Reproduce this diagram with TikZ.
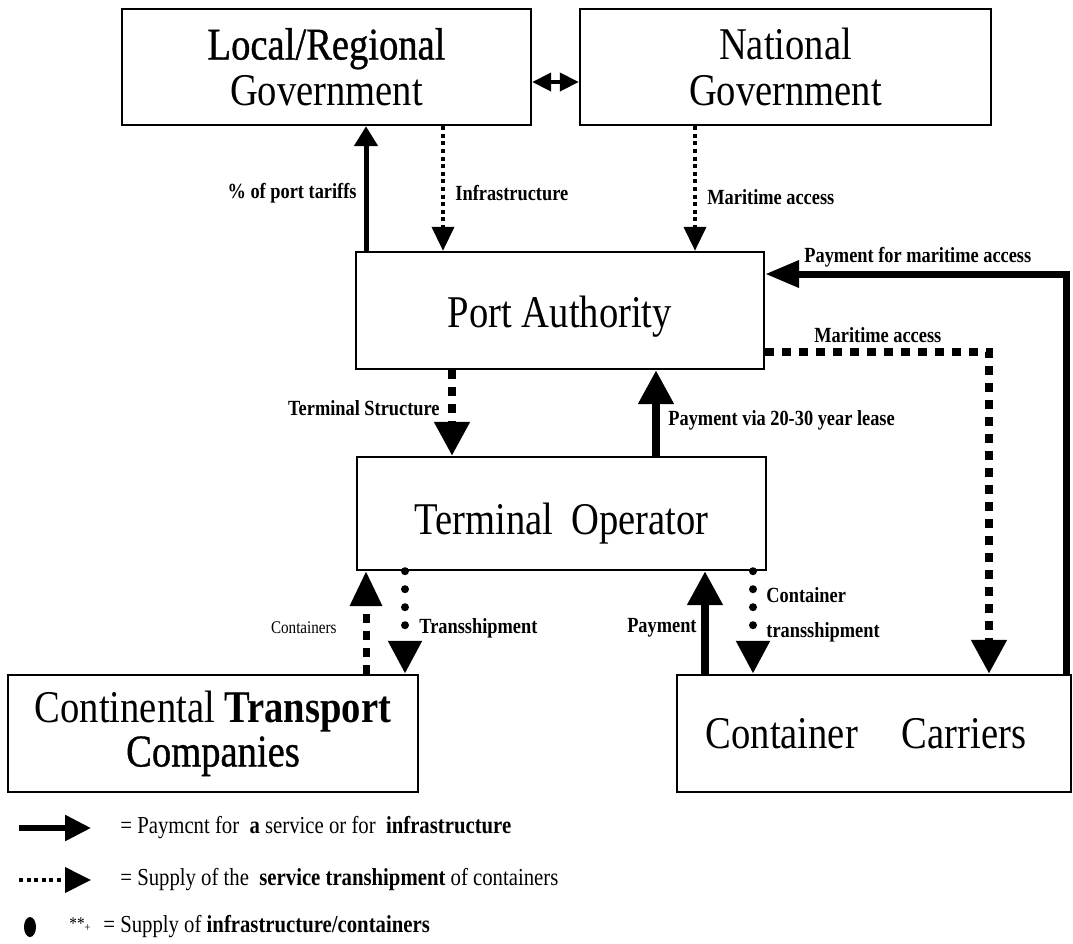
\documentclass[tikz,border=0pt]{standalone}
\usepackage{fontspec}
\setmainfont[FakeStretch=0.85]{Liberation Serif}
\newfontfamily\heavyserif[FakeStretch=0.85, FakeBold=0.8]{Liberation Serif}
\usetikzlibrary{arrows.meta,calc}
\tikzset{
    box/.style={draw, line width=1.2pt, rectangle, inner sep=0pt, align=center,
        font=\fontsize{22.7}{23}\selectfont},
    lbl/.style={inner sep=0pt, font=\fontsize{10.8}{12}\selectfont\bfseries},
    key/.style={inner sep=0pt, anchor=west, font=\fontsize{12.2}{14}\selectfont},
    gov/.style={line width=2pt, {Triangle[width=9pt,length=9.5pt]}-{Triangle[width=9pt,length=9.5pt]}},
    pay/.style={line width=4pt, -{Triangle[width=17pt,length=17pt]}},
    paylight/.style={line width=2.5pt, -{Triangle[width=11.5pt,length=10pt]}},
    supply/.style={line width=4pt, dash pattern=on 4.5pt off 4pt, -{Triangle[width=17pt,length=17pt]}},
    supplylight/.style={line width=2pt, dash pattern=on 2pt off 1.8pt, -{Triangle[width=11pt,length=12pt]}},
    infra/.style={line width=4pt, line cap=round, dash pattern=on 0pt off 9pt, -{Triangle[width=16pt,length=16.5pt]}}
}
\begin{document}
\begin{tikzpicture}[x=0.5pt, y=-0.5pt]
\useasboundingbox (0,0) rectangle (1073,944);

% actors
\node[box, minimum width=204.5pt, minimum height=58pt] at (326.5,67) (loc) {{\heavyserif Local/Regional}\\Government};
\node[box, minimum width=205.5pt, minimum height=58pt] at (785.5,67) (nat) {National\\Government};
\node[box, minimum width=204pt, minimum height=58.5pt, text height=21.5pt] at (560,310.5) (pa) {Port Authority};
\node[box, minimum width=204.5pt, minimum height=56.5pt, text height=26pt] at (561.5,513.5) (to) {Terminal\hspace{0.4em}Operator};
\node[box, minimum width=205pt, minimum height=58.5pt, font=\fontsize{22.7}{22}\selectfont] at (213,733.5) (ctc) {Continental \textbf{Transport}\\{\heavyserif Companies}};
\node[box, minimum width=197pt, minimum height=58.5pt] at (874,733.5) (cc) {Container\hspace{22pt}Carriers\hspace{8pt}};

% columns of the flows
\coordinate (ctar) at (366,0);
\coordinate (cinf) at (443,0);
\coordinate (cmar) at (695,0);
\coordinate (cstr) at (452,0);
\coordinate (clea) at (656,0);
\coordinate (ccon) at (366,0);
\coordinate (ctra) at (405,0);
\coordinate (cpay) at (705,0);
\coordinate (cctr) at (753,0);
\coordinate (cpma) at (1066,274);
\coordinate (cmac) at (989,352);

\draw[gov] ($(loc.east)+(0,15)$) -- ($(nat.west)+(0,15)$);
\draw[paylight] (pa.north -| ctar) -- (loc.south -| ctar);
\draw[supplylight] (loc.south -| cinf) -- (pa.north -| cinf);
\draw[supplylight] (nat.south -| cmar) -- (pa.north -| cmar);
\draw[pay, line width=3.5pt, -{Triangle[width=13pt,length=17pt]}] (cc.north -| cpma) |- (pa.east |- cpma);
\draw[supply] (pa.east |- cmac) -| (cc.north -| cmac);
\draw[supply] (pa.south -| cstr) -- (to.north -| cstr);
\draw[pay] (to.north -| clea) -- (pa.south -| clea);
\draw[supply, line width=3.5pt, -{Triangle[width=15.5pt,length=17.5pt]}] (ctc.north -| ccon) -- (to.south -| ccon);
\draw[infra] (to.south -| ctra) -- (ctc.north -| ctra);
\draw[pay] (cc.north -| cpay) -- (to.south -| cpay);
\draw[infra] (to.south -| cctr) -- (cc.north -| cctr);

% flow labels
\node[lbl, anchor=east] at (357,193) (ltar) {\% of port tariffs};
\node[lbl, anchor=west] at (455,193) (linf) {Infrastructure};
\node[lbl, anchor=west] at (707,197) (lmar) {Maritime access};
\node[lbl, anchor=west] at (804,257) (lpma) {Payment for maritime access};
\node[lbl, anchor=west] at (814,335) (lmac) {Maritime access};
\node[lbl, anchor=east] at (440,408) (lstr) {Terminal Structure};
\node[lbl, anchor=west] at (668,420) (llea) {Payment via 20-30 year lease};
\node[inner sep=0pt, anchor=east, font=\fontsize{8.9}{10}\selectfont] at (337,628) (lcon) {Containers};
\node[lbl, anchor=west] at (419,628) (ltra) {Transshipment};
\node[lbl, anchor=east] at (697,628) (lpay) {Payment};
\node[lbl, anchor=west, align=left, font=\fontsize{10.8}{17.5}\selectfont\bfseries] at (766,614.5) (lctr) {Container\\transshipment};

% legend
\coordinate (k1a) at (19,828);
\coordinate (k1b) at (91,828);
\draw[pay, line width=2.8pt, -{Triangle[width=12.5pt,length=13pt]}] (k1a) -- (k1b);
\node[key] at (120,828) (k1) {= Paymcnt for~ \textbf{a} service or for~ \textbf{infrastructure}};
\coordinate (k2a) at (19,880);
\coordinate (k2b) at (91,880);
\draw[supplylight, -{Triangle[width=12.5pt,length=13pt]}] (k2a) -- (k2b);
\node[key] at (120,880) (k2) {= Supply of the~ \textbf{service transhipment} of containers};
\fill (30,927) ellipse [x radius=6, y radius=10];
\node[inner sep=0pt, anchor=west, font=\fontsize{9}{10}\selectfont] at (69,925) (k3sym) {**\textsubscript{+}};
\node[key] at (103,927) (k3) {= Supply of \textbf{infrastructure/containers}};
\end{tikzpicture}
\end{document}
